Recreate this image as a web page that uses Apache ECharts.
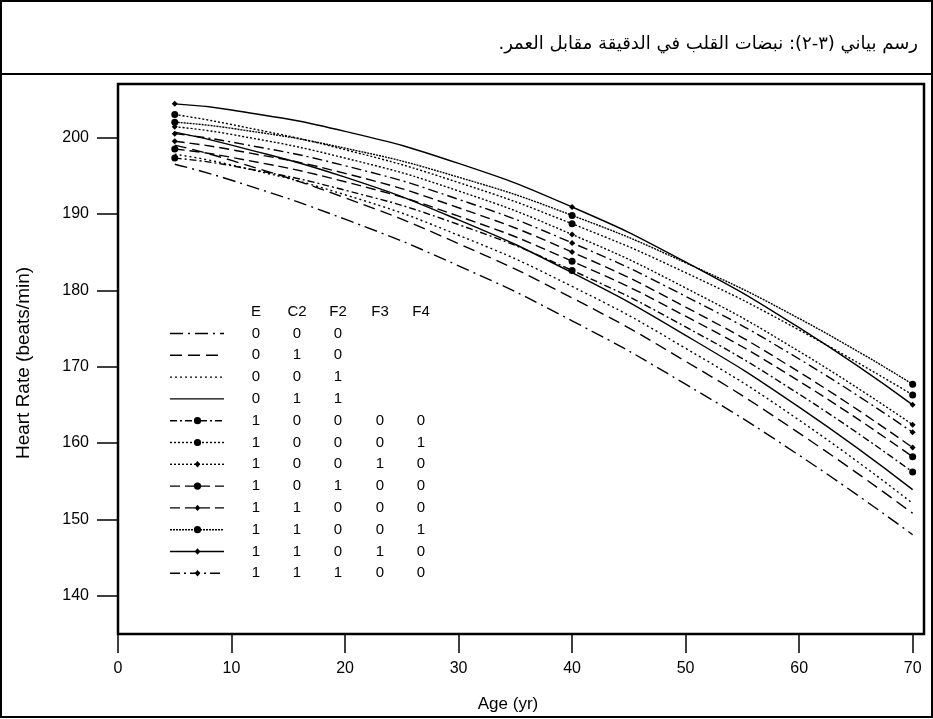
<!DOCTYPE html>
<html><head><meta charset="utf-8">
<script src="https://cdn.jsdelivr.net/npm/echarts@6/dist/echarts.min.js"></script>
<style>html,body{margin:0;padding:0;background:#fff}#c{width:933px;height:719px}</style>
</head><body><div id="c"></div>
<script>
// ---- data ----
const titleText = 'رسم بياني (٣-٢): نبضات القلب في الدقيقة مقابل العمر.';
const xName = 'Age (yr)';
const yName = 'Heart Rate (beats/min)';
const ages = [5, 10, 20, 30, 40, 50, 60, 70];
const markerAges = [5, 40, 70];
const xTicks = [0, 10, 20, 30, 40, 50, 60, 70];
const yTicks = [140, 150, 160, 170, 180, 190, 200];
// E=0 curves
const hr_000 = [196.5, 194.4, 189.3, 183.2, 176.0, 167.7, 158.4, 148.0];
const hr_010 = [199.0, 197.0, 192.1, 186.1, 179.0, 170.7, 161.3, 150.8];
const hr_001 = [197.8, 196.4, 192.5, 187.2, 180.5, 172.4, 163.0, 152.1];
const hr_011 = [200.7, 199.0, 194.8, 189.2, 182.3, 174.1, 164.7, 153.9];
// E=1 curves
const hr_10000 = [197.3, 196.3, 193.1, 188.6, 182.6, 175.2, 166.4, 156.2];
const hr_10001 = [203.0, 201.7, 198.4, 194.1, 188.7, 182.3, 174.8, 166.3];
const hr_10010 = [201.4, 200.4, 197.3, 193.0, 187.3, 180.3, 172.0, 162.4];
const hr_10100 = [198.5, 197.4, 194.2, 189.7, 183.8, 176.6, 168.1, 158.2];
const hr_11000 = [199.5, 198.4, 195.3, 190.8, 185.0, 177.8, 169.3, 159.4];
const hr_11001 = [202.0, 201.2, 198.6, 194.8, 189.8, 183.6, 176.3, 167.7];
const hr_11010 = [204.4, 203.6, 200.8, 196.6, 190.9, 183.7, 175.1, 165.0];
const hr_11100 = [200.5, 199.4, 196.3, 191.9, 186.2, 179.2, 171.0, 161.4];
const legendHeader = ['E', 'C2', 'F2', 'F3', 'F4'];
const codeE  = [0, 0, 0, 0, 1, 1, 1, 1, 1, 1, 1, 1];
const codeC2 = [0, 1, 0, 1, 0, 0, 0, 0, 1, 1, 1, 1];
const codeF2 = [0, 0, 1, 1, 0, 0, 0, 1, 0, 0, 0, 1];
const codeF3 = [null, null, null, null, 0, 0, 1, 0, 0, 0, 1, 0];
const codeF4 = [null, null, null, null, 0, 1, 0, 0, 0, 1, 0, 0];
const allSeries = [hr_000, hr_010, hr_001, hr_011, hr_10000, hr_10001, hr_10010, hr_10100, hr_11000, hr_11001, hr_11010, hr_11100];

// ---- styles ----
const styles = [
  {dash: [13, 5, 2, 5], sym: null},
  {dash: [12, 6], sym: null},
  {dash: [2, 3], sym: null},
  {dash: 'solid', sym: null},
  {dash: [7, 3, 2, 3], sym: 'circle', size: 7},
  {dash: [2, 2], sym: 'circle', size: 7},
  {dash: [2, 2], sym: 'diamond', size: 6},
  {dash: [10, 5], sym: 'circle', size: 7},
  {dash: [10, 5], sym: 'diamond', size: 6},
  {dash: [2, 1], sym: 'circle', size: 7},
  {dash: 'solid', sym: 'diamond', size: 6},
  {dash: [10, 4, 2, 4], sym: 'diamond', size: 6}
];
const FONT = '"Liberation Sans", Arial, sans-serif';

const series = allSeries.map((vals, i) => {
  const st = styles[i];
  return {
    type: 'line',
    name: 'series' + i,
    smooth: true,
    showAllSymbol: true,
    symbolSize: st.size || 6,
    silent: true,
    z: 3,
    data: ages.map((a, j) => ({
      value: [a, vals[j]],
      symbol: (st.sym && markerAges.indexOf(a) >= 0) ? st.sym : 'none'
    })),
    lineStyle: {color: '#000', width: 1.4, type: st.dash},
    itemStyle: {color: '#000'}
  };
});

// ---- legend table as graphics ----
const graphics = [];
const lgTop = 333.5, lgStep = 21.8;
const colX = [256, 297, 338, 380, 421];
legendHeader.forEach((h, k) => graphics.push({
  type: 'text', x: colX[k], y: 311.5,
  style: {text: h, font: '15px ' + FONT, fill: '#000', textAlign: 'center', textVerticalAlign: 'middle'}
}));
allSeries.forEach((_, i) => {
  const y = lgTop + i * lgStep;
  const st = styles[i];
  graphics.push({
    type: 'line', shape: {x1: 170, y1: y, x2: 224, y2: y},
    style: {stroke: '#000', lineWidth: 1.4, lineDash: st.dash === 'solid' ? null : st.dash}
  });
  if (st.sym === 'circle') {
    graphics.push({type: 'circle', shape: {cx: 197.5, cy: y, r: 3.6}, style: {fill: '#000'}});
  } else if (st.sym === 'diamond') {
    graphics.push({type: 'polygon', shape: {points: [[197.5, y - 3.2], [200.3, y], [197.5, y + 3.2], [194.7, y]]}, style: {fill: '#000'}});
  }
  const codes = [codeE[i], codeC2[i], codeF2[i], codeF3[i], codeF4[i]];
  codes.forEach((c, k) => {
    if (c === null) return;
    graphics.push({
      type: 'text', x: colX[k], y: y,
      style: {text: String(c), font: '15px ' + FONT, fill: '#000', textAlign: 'center', textVerticalAlign: 'middle'}
    });
  });
});
// frame, title, axis names
graphics.push({type: 'rect', shape: {x: 1, y: 1, width: 931, height: 716}, style: {fill: 'none', stroke: '#000', lineWidth: 2}});
graphics.push({type: 'line', shape: {x1: 0, y1: 74, x2: 933, y2: 74}, style: {stroke: '#000', lineWidth: 2}});
graphics.push({
  type: 'text', x: 918, y: 44,
  style: {text: '\u202B' + titleText + '\u202C', font: '18px "DejaVu Sans", sans-serif', fill: '#000', textAlign: 'right', textVerticalAlign: 'middle'}
});
graphics.push({
  type: 'text', x: 508, y: 704,
  style: {text: xName, font: '17px ' + FONT, fill: '#000', textAlign: 'center', textVerticalAlign: 'middle'}
});
graphics.push({
  type: 'text', x: 24, y: 363, rotation: Math.PI / 2,
  style: {text: yName, font: '19px ' + FONT, fill: '#000', textAlign: 'center', textVerticalAlign: 'middle'}
});

const chart = echarts.init(document.getElementById('c'), null, {renderer: 'canvas'});
chart.setOption({
  animation: false,
  backgroundColor: '#fff',
  grid: {left: 118, right: 9, top: 84, bottom: 85, show: true, borderColor: '#000', borderWidth: 2.5, containLabel: false, outerBoundsMode: 'none'},
  xAxis: {
    type: 'value', min: 0, max: 71,
    axisLine: {show: false},
    splitLine: {show: false},
    axisTick: {show: true, length: 19, customValues: xTicks, lineStyle: {color: '#000', width: 1.5}},
    axisLabel: {customValues: xTicks, margin: 27, fontSize: 16, fontFamily: FONT, color: '#000'}
  },
  yAxis: {
    type: 'value', min: 135, max: 207,
    axisLine: {show: false},
    splitLine: {show: false},
    axisTick: {show: true, length: 21, customValues: yTicks, lineStyle: {color: '#000', width: 1.5}},
    axisLabel: {customValues: yTicks, margin: 29, fontSize: 16, fontFamily: FONT, color: '#000'}
  },
  graphic: graphics,
  series: series
});
</script>
</body></html>
